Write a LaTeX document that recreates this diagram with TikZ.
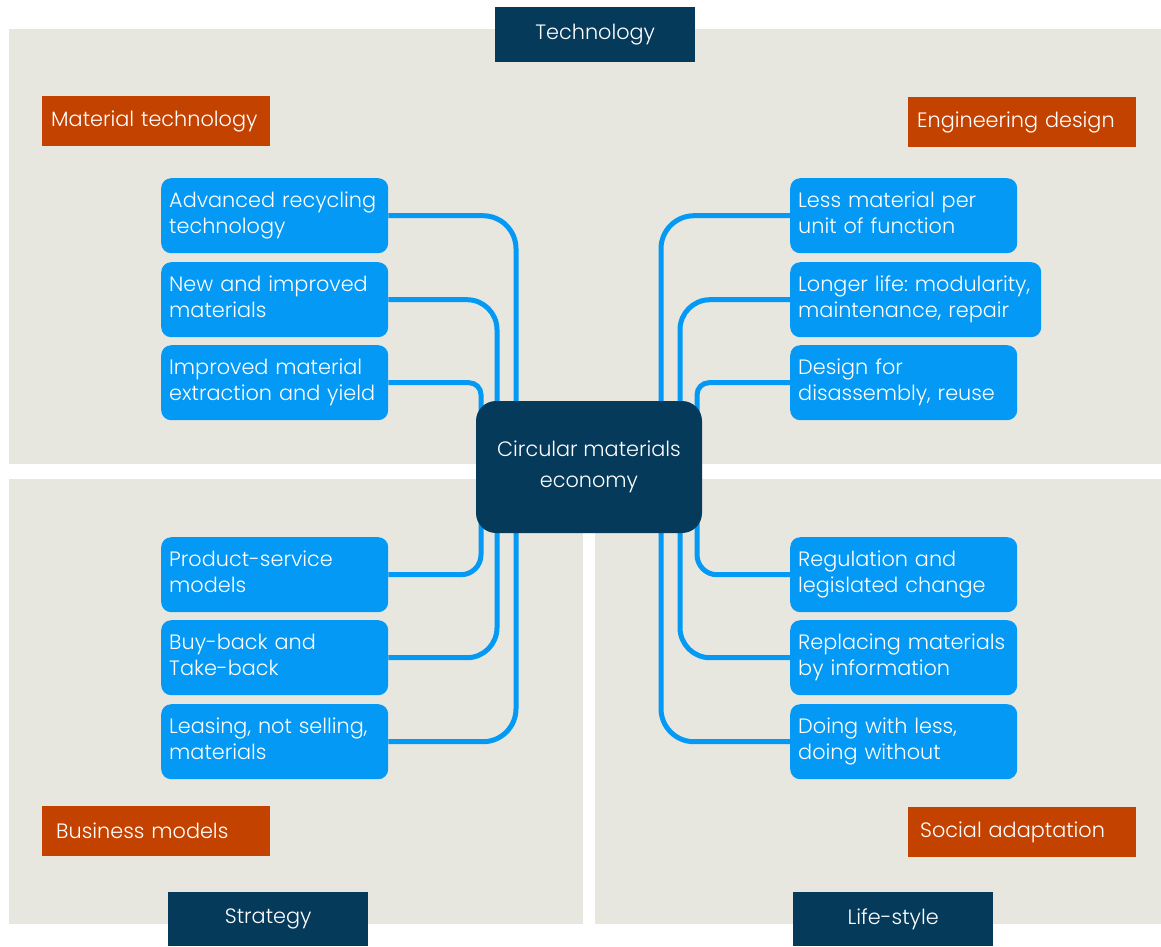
\documentclass[tikz,border=0pt]{standalone}
\usepackage{fontspec}
\setmainfont{Poppins}[UprightFont=* Light]
\definecolor{panel}{HTML}{E7E7E0}
\definecolor{navy}{HTML}{063A5B}
\definecolor{rust}{HTML}{C44200}
\definecolor{sky}{HTML}{0399F5}
\newcommand\twoline[2]{\strut\mbox{#1}\\\mbox{#2}\strut}
\frenchspacing
\begin{document}
\begin{tikzpicture}[x=1pt,y=-1pt,
  every node/.style={font=\fontsize{20.8}{26}\selectfont, text=white},
  item/.style={fill=sky, rounded corners=10pt, anchor=north west,
    minimum height=75pt, inner xsep=8pt, inner ysep=0pt, align=left,
    text width=#1},
  item/.default=211pt,
  topic/.style={fill=rust, anchor=north west, minimum height=50pt,
    inner xsep=#1, inner ysep=0pt, align=left, text width=228pt-2*#1},
  topic/.default=9pt,
  theme/.style={fill=navy, anchor=north west, minimum width=200pt,
    minimum height=#1, inner sep=0pt},
  theme/.default=55pt,
  hubbox/.style={fill=navy, rounded corners=20pt, minimum width=226pt,
    minimum height=132pt, align=center,
    font=\fontsize{20.8}{31}\selectfont},
  conn/.style={draw=sky, line width=5pt, rounded corners=#1},
  conn/.default=30pt
]
\useasboundingbox (0,0) rectangle (1161,946);

% background panels
\fill[panel] (9,29) rectangle (1161,464);
\fill[panel] (9,479) rectangle (583,924);
\fill[panel] (595,479) rectangle (1161,924);

% themes
\node[theme] (tech) at (495,7) {Technology};
\node[theme=54pt] (strat) at (168,892) {Strategy};
\node[theme=54pt] (life) at (793,892) {Life-style};

% topics
\node[topic] (mattech) at (42,96) {Material technology};
\node[topic] (engdes) at (908,97) {Engineering design};
\node[topic=14pt] (busmod) at (42,806) {Business models};
\node[topic=12pt] (social) at (908,807) {Social adaptation};

% hub position
\coordinate (hub) at (589,467);

% left items
\node[item] (adv) at (161,178) {\twoline{Advanced recycling}{technology}};
\node[item] (newmat) at (161,262) {\twoline{New and improved}{materials}};
\node[item] (extract) at (161,345) {\twoline{Improved material}{extraction and yield}};
\node[item] (prodserv) at (161,537) {\twoline{Product-service}{models}};
\node[item] (buyback) at (161,620) {\twoline{Buy-back and}{Take-back}};
\node[item] (leasing) at (161,704) {\twoline{Leasing, not selling,}{materials}};

% right items
\node[item] (lessmat) at (790,178) {\twoline{Less material per}{unit of function}};
\node[item=235pt] (longer) at (790,262) {\twoline{Longer life: modularity,}{maintenance, repair}};
\node[item] (disas) at (790,345) {\twoline{Design for}{disassembly, reuse}};
\node[item] (regul) at (790,537) {\twoline{Regulation and}{legislated change}};
\node[item] (replace) at (790,620) {\twoline{Replacing materials}{by information}};
\node[item] (less) at (790,704) {\twoline{Doing with less,}{doing without}};

% connectors to the hub
\draw[conn=33pt] (adv.east) -| ([xshift=-73pt]hub);
\draw[conn=30pt] (newmat.east) -| ([xshift=-92pt]hub);
\draw[conn=12pt] (extract.east) -| ([xshift=-108pt]hub);
\draw[conn=20pt] (prodserv.east) -| ([xshift=-108pt]hub);
\draw[conn=30pt] (buyback.east) -| ([xshift=-92pt]hub);
\draw[conn=33pt] (leasing.east) -| ([xshift=-73pt]hub);

\draw[conn=33pt] (lessmat.west) -| ([xshift=72pt]hub);
\draw[conn=30pt] (longer.west) -| ([xshift=91pt]hub);
\draw[conn=12pt] (disas.west) -| ([xshift=108pt]hub);
\draw[conn=20pt] (regul.west) -| ([xshift=108pt]hub);
\draw[conn=30pt] (replace.west) -| ([xshift=91pt]hub);
\draw[conn=33pt] (less.west) -| ([xshift=72pt]hub);

% central node
\node[hubbox] (center) at (hub) {Circular materials\\economy};
\end{tikzpicture}
\end{document}
